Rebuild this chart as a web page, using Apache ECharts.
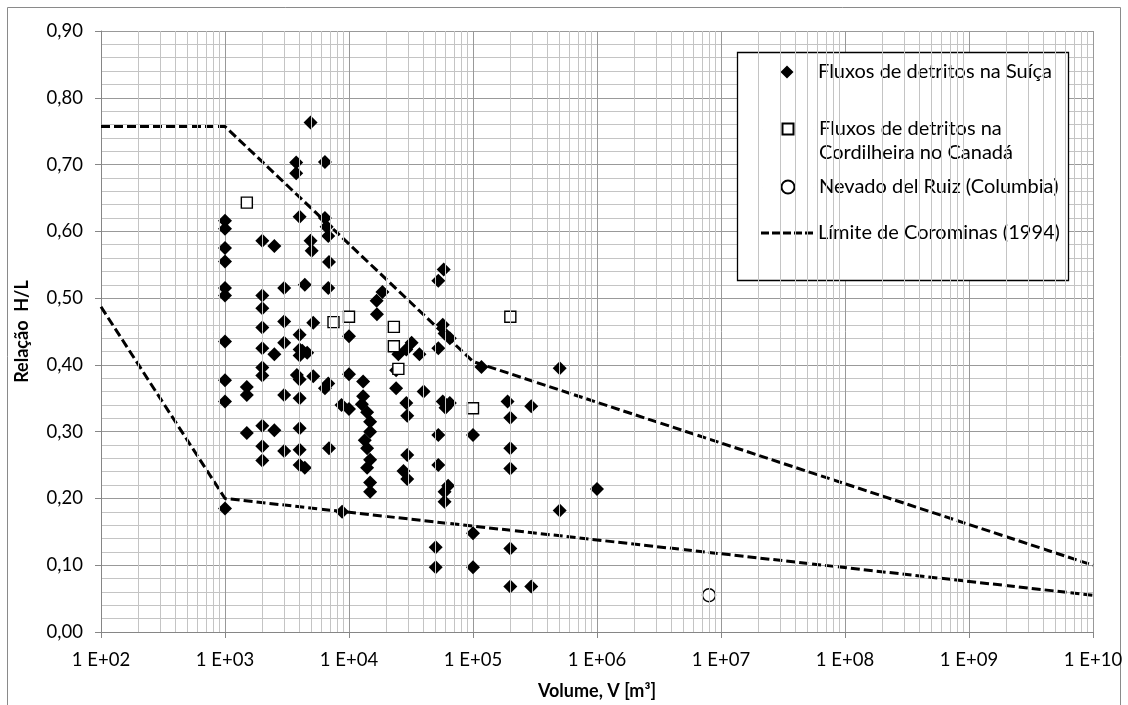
<!DOCTYPE html>
<html>
<head>
<meta charset="utf-8">
<script src="https://cdn.jsdelivr.net/npm/echarts@6/dist/echarts.min.js"></script>
<style>html,body{margin:0;padding:0;background:#fff;}#c{width:1128px;height:705px;}</style>
</head>
<body>
<div id="c"></div>
<script>
// ---- data ----
const seriesNames = ['Fluxos de detritos na Suíça', 'Fluxos de detritos na Cordilheira no Canadá', 'Nevado del Ruiz (Columbia)', 'Límite de Corominas (1994)'];
const swiss = [
  [1e3,0.616],[1e3,0.604],[1e3,0.575],[1e3,0.555],[1e3,0.515],[1e3,0.504],[1e3,0.435],[1e3,0.377],[1e3,0.345],[1e3,0.185],
  [1.5e3,0.367],[1.5e3,0.355],[1.5e3,0.298],
  [2e3,0.586],[2e3,0.504],[2e3,0.485],[2e3,0.456],[2e3,0.425],[2e3,0.396],[2e3,0.384],[2e3,0.309],[2e3,0.278],[2e3,0.257],
  [2.5e3,0.578],[2.5e3,0.416],[2.5e3,0.302],
  [3e3,0.515],[3e3,0.465],[3e3,0.433],[3e3,0.355],[3e3,0.271],
  [3.75e3,0.703],[3.75e3,0.687],
  [4e3,0.622],[4e3,0.445],[4e3,0.423],[4e3,0.414],[3.8e3,0.385],[4e3,0.378],[4e3,0.35],[4e3,0.305],[4e3,0.273],[4e3,0.25],
  [4.2e3,0.421],[4.4e3,0.52],[4.4e3,0.246],[4.6e3,0.418],
  [4.9e3,0.763],[4.9e3,0.586],[5e3,0.571],[5.15e3,0.463],[5.15e3,0.383],
  [6.4e3,0.704],[6.4e3,0.62],[6.4e3,0.365],[6.6e3,0.607],[6.8e3,0.593],[6.8e3,0.515],[6.8e3,0.372],[6.9e3,0.554],[6.9e3,0.275],
  [8.7e3,0.34],[8.8e3,0.18],
  [1e4,0.443],[1e4,0.386],[1e4,0.334],
  [1.3e4,0.375],[1.3e4,0.353],[1.27e4,0.341],[1.4e4,0.329],[1.4e4,0.275],[1.4e4,0.246],
  [1.48e4,0.315],[1.48e4,0.30],[1.48e4,0.258],[1.48e4,0.224],[1.48e4,0.21],[1.34e4,0.287],
  [1.86e4,0.509],[1.67e4,0.496],[1.68e4,0.476],
  [2.5e4,0.416],[2.4e4,0.392],[2.4e4,0.365],
  [3.2e4,0.433],[2.9e4,0.423],[2.9e4,0.343],[2.95e4,0.324],[2.95e4,0.265],[2.95e4,0.229],[2.75e4,0.241],
  [3.7e4,0.416],[4e4,0.36],
  [5.8e4,0.543],[5.25e4,0.526],[5.25e4,0.425],[5.25e4,0.295],[5.25e4,0.25],
  [5.7e4,0.46],[5.7e4,0.345],[5.9e4,0.447],[5.9e4,0.21],[5.9e4,0.195],[6.5e4,0.44],[6.5e4,0.343],[6e4,0.336],[6.3e4,0.219],
  [5e4,0.127],[5e4,0.097],
  [1e5,0.295],[1e5,0.148],[1e5,0.097],[1.17e5,0.397],
  [1.9e5,0.345],[2e5,0.321],[2e5,0.275],[2e5,0.245],[2e5,0.125],[2e5,0.068],
  [2.95e5,0.338],[2.95e5,0.068],
  [5e5,0.395],[5e5,0.182],
  [1e6,0.214]
];
const canada = [[1.5e3,0.643],[7.5e3,0.464],[1e4,0.472],[2.3e4,0.457],[2.3e4,0.428],[2.5e4,0.394],[1e5,0.335],[2e5,0.472]];
const nevado = [[8e6,0.055]];
const limitUpper = [[1e2,0.757],[1e3,0.757],[1e5,0.405],[1e10,0.10]];
const limitLower = [[1e2,0.487],[1e3,0.20],[1e10,0.055]];
const xMinExp = 2, xMaxExp = 10;
const yMin = 0, yMax = 0.9, yStep = 0.1;

// minor decade gridline positions (2..9 × 10^n)
const minorX = [];
for (let e = xMinExp; e < xMaxExp; e++) for (let k = 2; k <= 9; k++) minorX.push(k * Math.pow(10, e));

const FONT = 'Lato';
const chart = echarts.init(document.getElementById('c'), null, {renderer: 'canvas'});
const legendBase = {
  orient: 'vertical', left: 761, itemWidth: 52, itemHeight: 13, padding: 0, selectedMode: false,
  symbolKeepAspect: true,
  textStyle: {fontFamily: FONT, fontSize: 20, color: '#000', lineHeight: 24}
};
// legend icons: each spans the full 52px icon box (tiny end stubs) so the shape sits in its centre
const ICON_DIAMOND = 'path://M0,6.5L0.01,6.5M19.5,6.5L26,0L32.5,6.5L26,13ZM51.99,6.5L52,6.5';
const ICON_SQUARE = 'path://M0,6.5L0.01,6.5M20.5,1L31.5,1L31.5,12L20.5,12ZM51.99,6.5L52,6.5';
const ICON_CIRCLE = 'path://M0,6.5L0.01,6.5M19.5,6.5A6.5,6.5,0,1,1,32.5,6.5A6.5,6.5,0,1,1,19.5,6.5ZM51.99,6.5L52,6.5';
const ICON_DASH = 'path://M0,0h8v3h-8ZM11,0h8v3h-8ZM22,0h8v3h-8ZM33,0h8v3h-8ZM44,0h8v3h-8Z';

const option = {
  animation: false,
  backgroundColor: '#fff',
  grid: {left: 101, right: 35, top: 31, bottom: 58, containLabel: false},
  xAxis: {
    type: 'log', logBase: 10, min: Math.pow(10, xMinExp), max: Math.pow(10, xMaxExp), splitNumber: 8,
    name: 'Volume, V [m³]', nameLocation: 'middle', nameGap: 50,
    nameTextStyle: {fontFamily: FONT, fontSize: 18, fontWeight: 'bold', color: '#000'},
    axisLine: {lineStyle: {color: '#868686', width: 1}},
    axisTick: {show: true, inside: false, length: 6, lineStyle: {color: '#868686'}},
    axisLabel: {fontFamily: FONT, fontSize: 18.5, color: '#000', margin: 19,
      formatter: v => { const e = Math.round(Math.log10(v)); return '1 E+' + (e < 10 ? '0' + e : e); }},
    splitLine: {show: true, lineStyle: {color: '#999999', width: 1}}
  },
  yAxis: {
    type: 'value', min: yMin, max: yMax, interval: yStep,
    name: 'Relação  H/L', nameLocation: 'middle', nameGap: 70, nameRotate: 90,
    nameTextStyle: {fontFamily: FONT, fontSize: 18, fontWeight: 'bold', color: '#000'},
    axisLine: {show: true, lineStyle: {color: '#868686', width: 1}},
    axisTick: {show: true, inside: false, length: 6, lineStyle: {color: '#868686'}},
    axisLabel: {fontFamily: FONT, fontSize: 18.5, color: '#000', margin: 18,
      formatter: v => v.toFixed(2).replace('.', ',')},
    splitLine: {show: true, lineStyle: {color: '#999999', width: 1}},
    minorTick: {show: false, splitNumber: 5},
    minorSplitLine: {show: true, lineStyle: {color: '#c4c4c4', width: 1}}
  },
  legend: [
    Object.assign({}, legendBase, {top: 60, data: [{name: seriesNames[0], icon: ICON_DIAMOND}]}),
    Object.assign({}, legendBase, {top: 94,
      data: [{name: seriesNames[1], icon: ICON_SQUARE}],
      formatter: () => ' \nFluxos de detritos na\nCordilheira no Canadá',
      textStyle: {fontFamily: FONT, fontSize: 20, color: '#000', lineHeight: 23.3}}),
    Object.assign({}, legendBase, {top: 175, data: [{name: seriesNames[2], icon: ICON_CIRCLE}]}),
    Object.assign({}, legendBase, {top: 221, itemHeight: 3,
      data: [{name: seriesNames[3], icon: ICON_DASH, itemStyle: {color: '#000', borderWidth: 0}}]})
  ],
  graphic: [
    {type: 'rect', z: 3, shape: {x: 737.5, y: 52.5, width: 331, height: 228},
     style: {fill: '#fff', stroke: '#000', lineWidth: 1.3}},
    {type: 'rect', z: 0, silent: true, shape: {x: 7.5, y: 7.5, width: 1113, height: 730},
     style: {fill: 'none', stroke: '#8a8a8a', lineWidth: 1}}
  ],
  series: [
    {name: 'minor', type: 'line', data: [], z: 1, silent: true,
     markLine: {silent: true, symbol: 'none', label: {show: false}, animation: false,
       lineStyle: {color: '#c4c4c4', type: 'solid', width: 1},
       data: minorX.map(v => ({xAxis: v}))}},
    {name: seriesNames[3], type: 'line', data: limitUpper, symbol: 'none', z: 2,
     lineStyle: {color: '#000', width: 3, type: [9, 4]}, itemStyle: {color: '#000'}},
    {name: seriesNames[3], type: 'line', data: limitLower, symbol: 'none', z: 2,
     lineStyle: {color: '#000', width: 3, type: [9, 4]}, itemStyle: {color: '#000'}},
    {name: seriesNames[0], type: 'scatter', data: swiss, symbol: 'diamond', symbolSize: 14, z: 3,
     itemStyle: {color: '#000', opacity: 1}},
    {name: seriesNames[1], type: 'scatter', data: canada, symbol: 'rect', symbolSize: 11, z: 3,
     itemStyle: {color: '#fff', borderColor: '#000', borderWidth: 1.4, opacity: 1}},
    {name: seriesNames[2], type: 'scatter', data: nevado, symbol: 'circle', symbolSize: 13, z: 3,
     itemStyle: {color: '#fff', borderColor: '#000', borderWidth: 1.4, opacity: 1}}
  ]
};
chart.setOption(option);
</script>
</body>
</html>
